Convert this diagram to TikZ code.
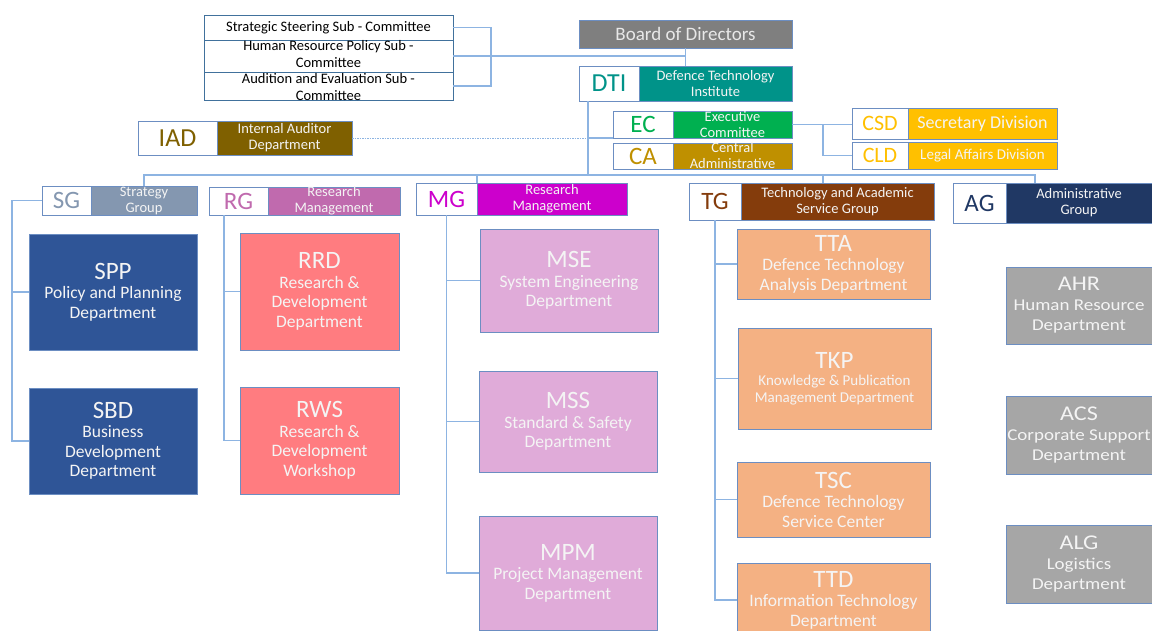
\documentclass[tikz,border=0pt]{standalone}
\usepackage{fontspec}
\setmainfont{Carlito}
\newfontfamily\widefont{Carlito}[FakeStretch=1.15]
\newcommand\setfs[2]{\fontsize{#1}{#2}\selectfont}
\definecolor{bord}{RGB}{108,142,194}
\definecolor{cbord}{RGB}{65,113,156}
\definecolor{lnk}{RGB}{141,180,226}
\definecolor{txw}{RGB}{244,244,244}
\definecolor{boardg}{RGB}{127,127,127}
\definecolor{boardt}{RGB}{232,232,232}
\definecolor{dteal}{RGB}{0,147,137}
\definecolor{ecg}{RGB}{0,176,80}
\definecolor{cagold}{RGB}{191,144,0}
\definecolor{csdy}{RGB}{255,192,0}
\definecolor{iadb}{RGB}{127,96,0}
\definecolor{sgc}{RGB}{132,151,176}
\definecolor{rgc}{RGB}{192,106,174}
\definecolor{mgc}{RGB}{204,0,204}
\definecolor{tgc}{RGB}{132,60,12}
\definecolor{agc}{RGB}{32,56,100}
\definecolor{sblue}{RGB}{47,85,151}
\definecolor{rsal}{RGB}{255,124,128}
\definecolor{mlav}{RGB}{224,171,217}
\definecolor{torg}{RGB}{244,177,131}
\definecolor{agray}{RGB}{166,166,166}
\tikzset{
  box/.style={draw=bord, line width=0.9pt, inner sep=0pt, outer sep=0pt, anchor=north west, fill=white},
  sz/.style 2 args={minimum width=#1pt, minimum height=#2pt},
  lab/.style={inner sep=0pt, align=center, text=txw},
  clab/.style={inner sep=0pt, align=center, text=black, font=\setfs{14.5}{17}},
  abbr/.style={inner sep=0pt, font=\setfs{25}{27}},
  htxt/.style={lab, font=\setfs{14.5}{16}},
  dtxt/.style={lab, font=\setfs{17.5}{19.5}},
  atxt/.style={lab, font=\widefont\setfs{16.5}{20}},
  conn/.style={draw=lnk, line width=1.4pt},
  dotc/.style={draw=lnk, line width=0.8pt, dash pattern=on 1.5pt off 1pt},
}
\newcommand\ttl{\setfs{25}{27}}
\newcommand\attl{\setfs{21}{22}}
\begin{document}
\begin{tikzpicture}[x=1pt,y=-1pt]
\useasboundingbox (0,0) rectangle (1152,630);
\clip (0,0) rectangle (1152,630);
% committees
\node[box, draw=cbord, sz={249}{25}, label={[clab]center:Strategic Steering Sub - Committee}] (C1) at (204,15) {};
\node[box, draw=cbord, sz={249}{32}, label={[clab, yshift=2pt]center:{Human Resource Policy Sub -\\Committee}}] (C2) at (204,40) {};
\node[box, draw=cbord, sz={249}{28}, label={[clab, yshift=-1pt]center:{Audition and Evaluation Sub -\\Committee}}] (C3) at (204,72) {};
% board & DTI
\node[box, fill=boardg, sz={213}{28}, label={[lab, text=boardt, font=\setfs{19}{22}]center:Board of Directors}] (BOD) at (579,20) {};
\node[box, sz={60}{35}, label={[abbr, text=dteal, font=\setfs{26}{28}]center:DTI}] (DTIa) at (579,66) {};
\node[box, fill=dteal, sz={153}{35}, label={[htxt]center:{Defence Technology\\Institute}}] (DTIb) at (639,66) {};
% EC, CA
\node[box, sz={60}{27}, label={[abbr, text=ecg]center:EC}] (ECa) at (613,111) {};
\node[box, fill=ecg, sz={119}{27}, label={[htxt]center:{Executive\\Committee}}] (ECb) at (673,111) {};
\node[box, sz={60}{26}, label={[abbr, text=cagold]center:CA}] (CAa) at (613,143) {};
\node[box, fill=cagold, sz={119}{26}, label={[htxt]center:{Central\\Administrative}}] (CAb) at (673,143) {};
% CSD, CLD
\node[box, sz={56}{31}, label={[abbr, text=csdy, font=\setfs{22}{24}]center:CSD}] (CSDa) at (852,108) {};
\node[box, fill=csdy, sz={149}{31}, label={[lab, font=\setfs{18}{20}]center:Secretary Division}] (CSDb) at (908,108) {};
\node[box, sz={56}{27}, label={[abbr, text=csdy, font=\setfs{22}{24}]center:CLD}] (CLDa) at (852,142) {};
\node[box, fill=csdy, sz={149}{27}, label={[lab, font=\setfs{15}{17}]center:Legal Affairs Division}] (CLDb) at (908,142) {};
% IAD
\node[box, sz={79}{34}, label={[abbr, text=iadb, font=\setfs{26}{28}]center:IAD}] (IADa) at (138,121) {};
\node[box, fill=iadb, sz={135}{34}, label={[htxt]center:{Internal Auditor\\Department}}] (IADb) at (217,121) {};
% group headers
\node[box, sz={49}{29}, label={[abbr, text=sgc]center:SG}] (SGa) at (42,186) {};
\node[box, fill=sgc, sz={106}{29}, label={[htxt]center:{Strategy\\Group}}] (SGb) at (91,186) {};
\node[box, sz={59}{28}, label={[abbr, text=rgc]center:RG}] (RGa) at (209,187) {};
\node[box, fill=rgc, sz={132}{28}, label={[htxt]center:{Research\\Management}}] (RGb) at (268,187) {};
\node[box, sz={61}{32}, label={[abbr, text=mgc]center:MG}] (MGa) at (416,183) {};
\node[box, fill=mgc, sz={150}{32}, label={[htxt]center:{Research\\Management}}] (MGb) at (477,183) {};
\node[box, sz={52}{37}, label={[abbr, text=tgc]center:TG}] (TGa) at (689,183) {};
\node[box, fill=tgc, sz={193}{37}, label={[htxt]center:{Technology and Academic\\Service Group}}] (TGb) at (741,183) {};
\node[box, sz={53}{40}, label={[abbr, text=agc]center:AG}] (AGa) at (953,183) {};
\node[box, fill=agc, sz={146}{40}, label={[htxt]center:{Administrative\\Group}}] (AGb) at (1006,183) {};
% SG departments
\node[box, fill=sblue, sz={168}{116}, label={[dtxt]center:{{\ttl SPP}\\Policy and Planning\\Department}}] (SPP) at (29,234) {};
\node[box, fill=sblue, sz={168}{106}, label={[dtxt]center:{{\ttl SBD}\\Business\\Development\\Department}}] (SBD) at (29,388) {};
% RG departments
\node[box, fill=rsal, sz={159}{117}, label={[dtxt]center:{{\ttl RRD}\\Research \&\\Development\\Department}}] (RRD) at (240,233) {};
\node[box, fill=rsal, sz={159}{107}, label={[dtxt]center:{{\ttl RWS}\\Research \&\\Development\\Workshop}}] (RWS) at (240,387) {};
% MG departments
\node[box, fill=mlav, sz={178}{103}, label={[dtxt]center:{{\ttl MSE}\\System Engineering\\Department}}] (MSE) at (480,229) {};
\node[box, fill=mlav, sz={178}{101}, label={[dtxt]center:{{\ttl MSS}\\Standard \& Safety\\Department}}] (MSS) at (479,371) {};
\node[box, fill=mlav, sz={178}{114}, label={[dtxt]center:{{\ttl MPM}\\Project Management\\Department}}] (MPM) at (479,516) {};
% TG departments
\node[box, fill=torg, sz={193}{70}, label={[dtxt]center:{{\ttl TTA}\\Defence Technology\\Analysis Department}}] (TTA) at (737,229) {};
\node[box, fill=torg, sz={193}{101}, label={[lab, font=\setfs{15}{17}]center:{{\ttl TKP}\\Knowledge \& Publication\\Management Department}}] (TKP) at (738,328) {};
\node[box, fill=torg, sz={193}{75}, label={[dtxt]center:{{\ttl TSC}\\Defence Technology\\Service Center}}] (TSC) at (737,462) {};
\node[box, fill=torg, sz={193}{74}, label={[dtxt]center:{{\ttl TTD}\\Information Technology\\Department}}] (TTD) at (737,563) {};
% AG departments
\node[box, fill=agray, sz={146}{77}, label={[atxt]center:{{\attl AHR}\\Human Resource\\Department}}] (AHR) at (1006,267) {};
\node[box, fill=agray, sz={146}{78}, label={[atxt]center:{{\attl ACS}\\Corporate Support\\Department}}] (ACS) at (1006,396) {};
\node[box, fill=agray, sz={146}{78}, label={[atxt]center:{{\attl ALG}\\Logistics\\Department}}] (ALG) at (1006,525) {};
% helper coordinates
\coordinate (cx) at (491,0);
\coordinate (dx) at (588,0);
\coordinate (bus) at (0,175);
\coordinate (ex) at (823,0);
\coordinate (tgx) at (823,0);
\coordinate (agx) at (1035,0);
\coordinate (sgx) at (12,0);
\coordinate (rgx) at (224,0);
% connectors
\draw[conn] (C1.east) -- (C1.east -| cx) -- (C3.east -| cx) -- (C3.east);
\draw[conn] (C2.east) -- (C2.east -| BOD.south);
\draw[conn] (BOD.south) -- (DTIb.north -| BOD.south);
\draw[conn] (DTIa.south -| dx) -- (bus -| dx);
\draw[conn] (ECa.south west -| dx) -- (ECa.south west);
\draw[dotc] (IADb.east) -- (IADb.east -| dx);
\draw[conn] (ECb.east) -- (ECb.east -| ex) |- (CLDa.west);
\draw[conn] (ECb.east -| ex) -- (ECb.east -| CSDa.west);
\draw[conn] (SGb.north) -- (SGb.north |- bus) -- (bus -| agx) -- (AGb.north -| agx);
\draw[conn] (bus -| MGb.north west) -- (MGb.north west);
\draw[conn] (bus -| tgx) -- (TGb.north -| tgx);
\draw[conn] (SGa.west) -- (SGa.west -| sgx) |- (SBD.west);
\draw[conn] (SPP.west) -- (SPP.west -| sgx);
\draw[conn] (RGa.south -| rgx) |- (RWS.west);
\draw[conn] (RRD.west) -- (RRD.west -| rgx);
\draw[conn] (MGa.south) |- (MPM.west);
\draw[conn] (MSE.west) -- (MSE.west -| MGa.south);
\draw[conn] (MSS.west) -- (MSS.west -| MGa.south);
\draw[conn] (TGa.south) |- (TTD.west);
\draw[conn] (TTA.west) -- (TTA.west -| TGa.south);
\draw[conn] (TKP.west) -- (TKP.west -| TGa.south);
\draw[conn] (TSC.west) -- (TSC.west -| TGa.south);
\end{tikzpicture}
\end{document}
